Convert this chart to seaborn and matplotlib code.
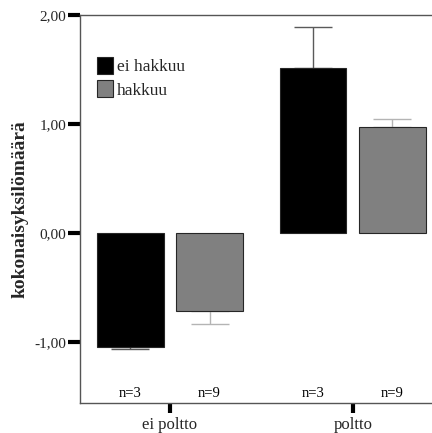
import matplotlib
matplotlib.use("Agg")
import matplotlib.pyplot as plt
import seaborn as sns
import pandas as pd
import numpy as np
from matplotlib.patches import Patch

sns.set_theme(style="white")
plt.rcParams["font.family"] = ["Liberation Serif", "DejaVu Serif"]

# Group means and standard errors
poltto = ["ei poltto", "poltto"]
hakkuu = ["ei hakkuu", "hakkuu"]
means_ei_hakkuu = [-1.05, 1.51]
means_hakkuu = [-0.72, 0.97]
se_ei_hakkuu = [0.012, 0.376]
se_hakkuu = [0.118, 0.072]
n_ei_hakkuu = [3, 3]
n_hakkuu = [9, 9]
yticks = [-1.0, 0.0, 1.0, 2.0]
ytick_labels = ["-1,00", "0,00", "1,00", "2,00"]

df = pd.DataFrame({
    "poltto": poltto * 2,
    "hakkuu": [hakkuu[0]] * 2 + [hakkuu[1]] * 2,
    "value": means_ei_hakkuu + means_hakkuu,
})

bar_colors = {"ei hakkuu": "#000000", "hakkuu": "#808080"}
err_colors = {"ei hakkuu": "#5a5a5a", "hakkuu": "#b4b4b4"}

fig = plt.figure(figsize=(4.32, 4.33), dpi=100)
W, H = 432, 433
ax = fig.add_axes([80 / W, (H - 403) / H, (432 - 80) / W, (403 - 15) / H])

sns.barplot(data=df, x="poltto", y="value", hue="hakkuu", order=poltto,
            hue_order=hakkuu, palette=bar_colors, width=0.864, gap=0.164,
            errorbar=None, edgecolor="#262626", linewidth=0.8,
            legend=False, ax=ax, zorder=3)

# One-sided error bars pointing away from zero, plus n labels
for container, level, means, ses, ns in zip(
        ax.containers, hakkuu,
        [means_ei_hakkuu, means_hakkuu], [se_ei_hakkuu, se_hakkuu],
        [n_ei_hakkuu, n_hakkuu]):
    for bar, m, s, n in zip(container.patches, means, ses, ns):
        xc = bar.get_x() + bar.get_width() / 2
        yerr = [[s], [0]] if m < 0 else [[0], [s]]
        ax.errorbar(xc, m, yerr=yerr, fmt="none", ecolor=err_colors[level],
                    elinewidth=1.0, capsize=13.7, capthick=1.0, zorder=2)
        ax.text(xc, -1.475, f"n={n}", ha="center", va="center",
                fontsize=10.5, color="black")

ax.set_xlim(-0.492, 1.432)
ax.set_ylim(-1.56, 2.0)
ax.set_yticks(yticks)
ax.set_yticklabels(ytick_labels, fontsize=11)
ax.set_xticks([0, 1])
ax.set_xticklabels(poltto, fontsize=12)
ax.set_xlabel("")
ax.set_ylabel("kokonaisyksilömäärä", fontsize=14, fontweight="bold")
ax.yaxis.set_label_coords(-0.145, 0.5)

ax.tick_params(axis="y", direction="out", length=9, width=3, color="black", pad=1, left=True)
ax.tick_params(axis="x", direction="out", length=7, width=3, color="black", pad=3, bottom=True)

for side in ["left", "bottom", "top"]:
    ax.spines[side].set_color("#555555")
    ax.spines[side].set_linewidth(1.0)
ax.spines["right"].set_visible(False)

handles = [Patch(facecolor=bar_colors[h], edgecolor="#262626", linewidth=0.8) for h in hakkuu]
ax.legend(handles, hakkuu, loc="upper left", bbox_to_anchor=(0.048, 0.892),
          frameon=False, fontsize=12.5, handlelength=0.9, handleheight=1.1,
          handletextpad=0.25, labelspacing=0.3, borderaxespad=0, borderpad=0)

fig.savefig("out.png", dpi=100)
